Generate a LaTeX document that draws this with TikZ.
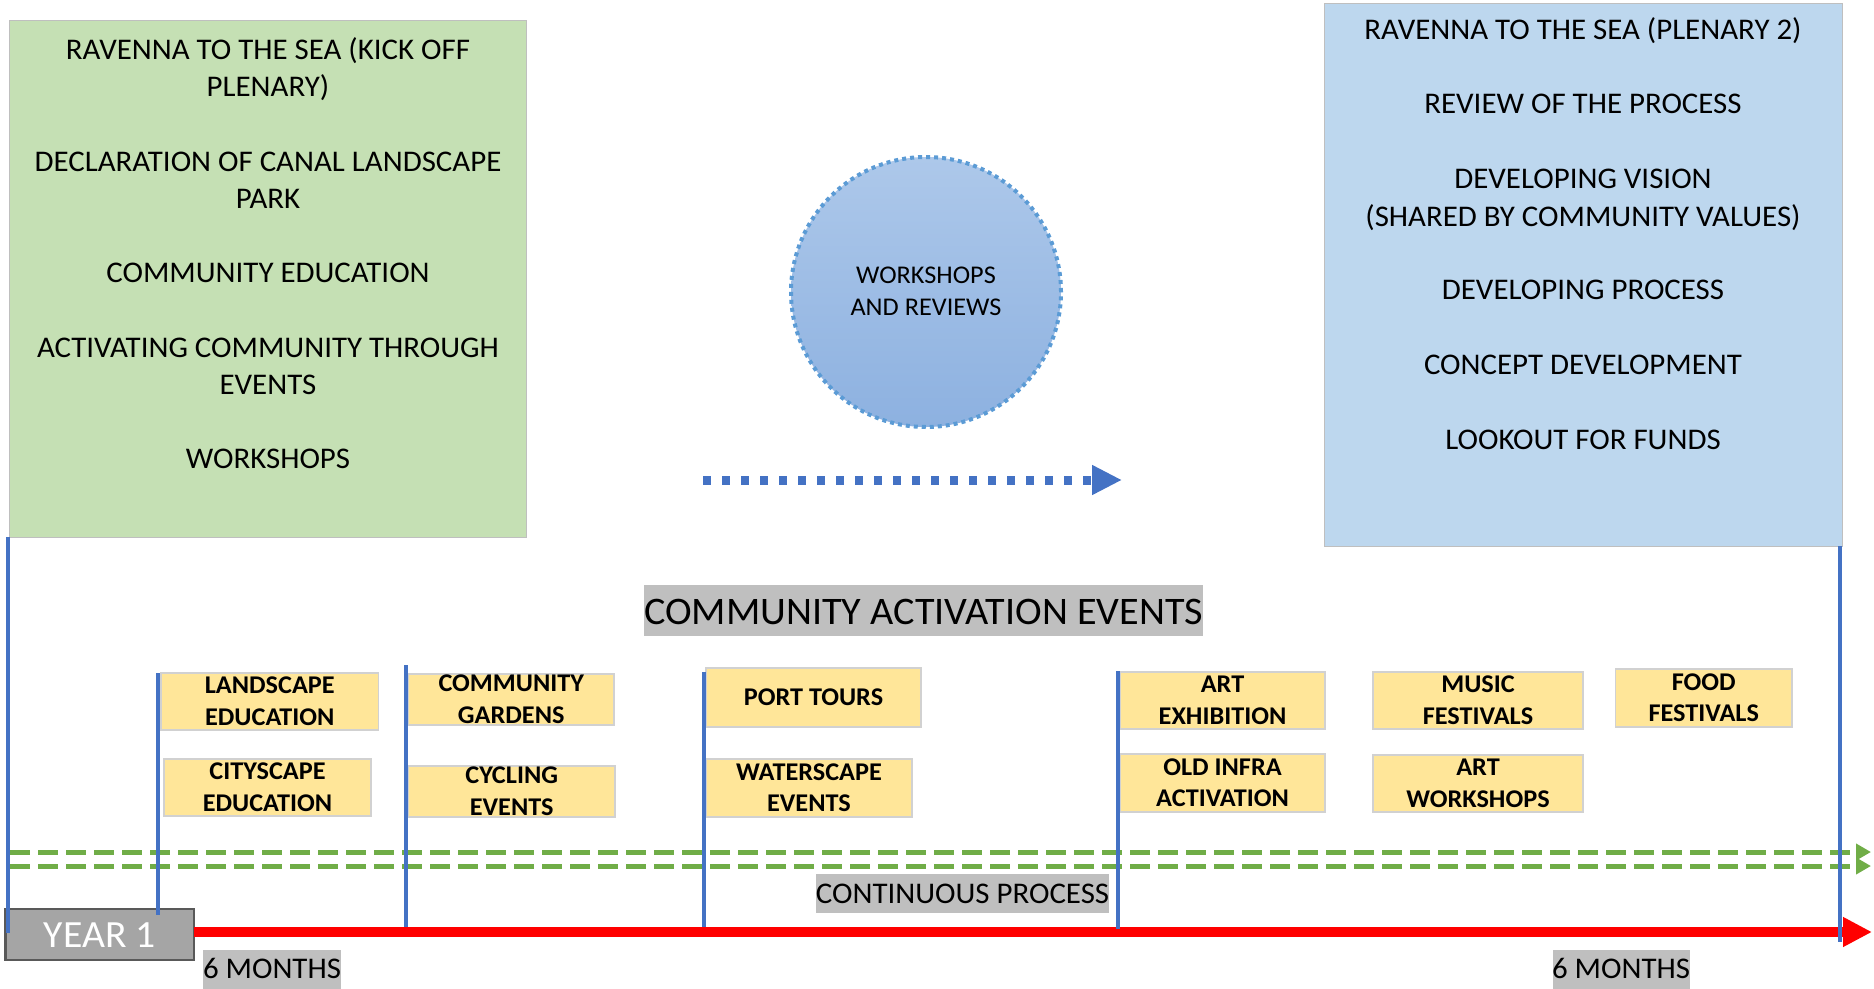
\documentclass[tikz,border=0pt]{standalone}
\usepackage{fontspec}
\setmainfont{Carlito}[FakeStretch=1.03]
\usetikzlibrary{arrows.meta,calc}
\definecolor{gboxc}{HTML}{C5E0B4}
\definecolor{bboxc}{HTML}{BDD7EE}
\definecolor{yboxc}{HTML}{FFE699}
\definecolor{lblgray}{HTML}{BFBFBF}
\definecolor{yeargray}{HTML}{A5A5A5}
\definecolor{yearedge}{HTML}{595959}
\definecolor{tblue}{HTML}{4472C4}
\definecolor{cblue}{HTML}{5B9BD5}
\definecolor{cgreen}{HTML}{70AD47}
\definecolor{ctop}{HTML}{ADC8EA}
\definecolor{cbot}{HTML}{8DB1E0}
\definecolor{tred}{HTML}{FF0000}
\newcommand{\rbox}[6]{%
  \node[#1, anchor=north west, minimum width={(#5)-(#3)}, minimum height={(#6)-(#4)}] (#2) at (#3,#4) {};}
\newcommand{\ytwo}[3]{%
  \node[ytxt] (#1-a) at ($(#1.center)+(0,-7.85)$) {#2};
  \node[ytxt] (#1-b) at ($(#1.center)+(0,23.65)$) {#3};}
\newcommand{\yone}[2]{%
  \node[ytxt] (#1-a) at ($(#1.center)+(0,7.9)$) {#2};}
\begin{document}
\begin{tikzpicture}[x=1pt,y=-1pt,
  rect/.style={rectangle, inner sep=0pt, outer sep=0pt},
  greenbox/.style={rect, fill=gboxc, draw=black!25, line width=1pt},
  bluebox/.style={rect, fill=bboxc, draw=black!25, line width=1pt},
  yellowbox/.style={rect, fill=yboxc, draw=black!18, line width=1.2pt},
  graylbl/.style={rect, fill=lblgray},
  yearbox/.style={rect, fill=yeargray, draw=yearedge, line width=2.5pt},
  gtxt/.style={anchor=base, inner sep=0pt, font=\fontsize{30}{36}\selectfont},
  ytxt/.style={anchor=base, inner sep=0pt, font=\fontsize{25.5}{30}\selectfont\bfseries},
  ctxt/.style={anchor=base, inner sep=0pt, font=\fontsize{25.5}{30}\selectfont},
  marker/.style={draw=tblue, line width=4pt},
  greenarrow/.style={draw=cgreen, line width=5pt, dash pattern=on 20pt off 8pt, -{Triangle[length=15pt,width=16pt]}},
]
\useasboundingbox (0,0) rectangle (1874,988);

% top boxes
\rbox{greenbox}{green}{9.6}{20}{526}{537}
\rbox{bluebox}{blue}{1324}{3}{1842}{546}

\node[gtxt] (g1) at (268,59) {RAVENNA TO THE SEA (KICK OFF};
\node[gtxt] (g2) at (268,96) {PLENARY)};
\node[gtxt] (g3) at (268,171) {DECLARATION OF CANAL LANDSCAPE};
\node[gtxt] (g4) at (268,208) {PARK};
\node[gtxt] (g5) at (268,282) {COMMUNITY EDUCATION};
\node[gtxt] (g6) at (268,357) {ACTIVATING COMMUNITY THROUGH};
\node[gtxt] (g7) at (268,394) {EVENTS};
\node[gtxt] (g8) at (268,468) {WORKSHOPS};

\node[gtxt] (b1) at (1583,39) {RAVENNA TO THE SEA (PLENARY 2)};
\node[gtxt] (b2) at (1583,113.5) {REVIEW OF THE PROCESS};
\node[gtxt] (b3) at (1583,188.5) {DEVELOPING VISION};
\node[gtxt] (b4) at (1583,226) {(SHARED BY COMMUNITY VALUES)};
\node[gtxt] (b5) at (1583,299) {DEVELOPING PROCESS};
\node[gtxt] (b6) at (1583,374) {CONCEPT DEVELOPMENT};
\node[gtxt] (b7) at (1583,449) {LOOKOUT FOR FUNDS};

% circle
\node[circle, minimum size=270pt, inner sep=0pt, top color=ctop, bottom color=cbot,
      draw=cblue, line width=4pt, dash pattern=on 4pt off 4pt] (circ) at (926,292) {};
\node[ctxt] (c1) at (926,283.3) {WORKSHOPS};
\node[ctxt] (c2) at (926,315.7) {AND REVIEWS};

% dotted arrow
\coordinate (da1) at (703,480);
\coordinate (da2) at (1122,480);
\draw[draw=tblue, line width=9pt, dash pattern=on 8pt off 11pt, -{Triangle[length=30pt,width=28pt]}] (da1) -- (da2);

% label boxes
\rbox{graylbl}{cae}{644}{585}{1203}{636}
\node[anchor=base, inner sep=0pt, font=\fontsize{39}{46}\selectfont] (caet) at (923.5,624.3) {COMMUNITY ACTIVATION EVENTS};
\rbox{graylbl}{cont}{816}{874}{1109}{913}
\node[gtxt] (contt) at (962.5,903.5) {CONTINUOUS PROCESS};
\rbox{graylbl}{sixl}{203}{950}{341}{990}
\node[gtxt] (sixlt) at (272,978.5) {6 MONTHS};
\rbox{graylbl}{sixr}{1552.6}{950}{1690}{990}
\node[gtxt] (sixrt) at (1621,978.5) {6 MONTHS};

% yellow boxes
\rbox{yellowbox}{y1}{161}{673}{378.6}{730}
\ytwo{y1}{LANDSCAPE}{EDUCATION}
\rbox{yellowbox}{y2}{164}{759}{371}{816}
\ytwo{y2}{CITYSCAPE}{EDUCATION}
\rbox{yellowbox}{y3}{408.5}{674}{614}{725}
\ytwo{y3}{COMMUNITY}{GARDENS}
\rbox{yellowbox}{y4}{408.5}{766}{615}{817}
\ytwo{y4}{CYCLING}{EVENTS}
\rbox{yellowbox}{y5}{706}{668}{921}{727}
\yone{y5}{PORT TOURS}
\rbox{yellowbox}{y6}{706}{759}{912}{817}
\ytwo{y6}{WATERSCAPE}{EVENTS}
\rbox{yellowbox}{y7}{1120}{672}{1325}{729}
\ytwo{y7}{ART}{EXHIBITION}
\rbox{yellowbox}{y8}{1120}{754}{1325}{812}
\ytwo{y8}{OLD INFRA}{ACTIVATION}
\rbox{yellowbox}{y9}{1373}{672}{1583}{729}
\ytwo{y9}{MUSIC}{FESTIVALS}
\rbox{yellowbox}{y10}{1373}{755}{1583}{812}
\ytwo{y10}{ART}{WORKSHOPS}
\rbox{yellowbox}{y11}{1615.5}{669}{1792}{727}
\ytwo{y11}{FOOD}{FESTIVALS}

% green continuous arrows
\coordinate (ga1) at (10,852);
\coordinate (ga2) at (1871,852);
\coordinate (gb1) at (10,866);
\coordinate (gb2) at (1871,866);
\draw[greenarrow] (ga1) -- (ga2);
\draw[greenarrow] (gb1) -- (gb2);

% year box and red timeline
\rbox{yearbox}{year}{5.4}{909}{194}{960}
\node[anchor=base, inner sep=0pt, text=white, font=\fontsize{38.5}{44}\selectfont] (yeart) at (99.7,947.2) {YEAR 1};
\coordinate (rend) at (1872,932);
\draw[draw=tred, line width=10pt, -{Triangle[length=29pt,width=28pt]}] (year.east |- rend) -- (rend);

% blue markers
\coordinate (m1a) at (8,537);    \coordinate (m1b) at (8,933);
\coordinate (m2a) at (158,673);  \coordinate (m2b) at (158,915);
\coordinate (m3a) at (406,665);  \coordinate (m3b) at (406,927);
\coordinate (m4a) at (703.5,672);\coordinate (m4b) at (703.5,927);
\coordinate (m5a) at (1117.5,671);\coordinate (m5b) at (1117.5,929);
\coordinate (m6a) at (1840,546); \coordinate (m6b) at (1840,942);
\foreach \i in {1,...,6} {\draw[marker] (m\i a) -- (m\i b);}
\end{tikzpicture}
\end{document}
